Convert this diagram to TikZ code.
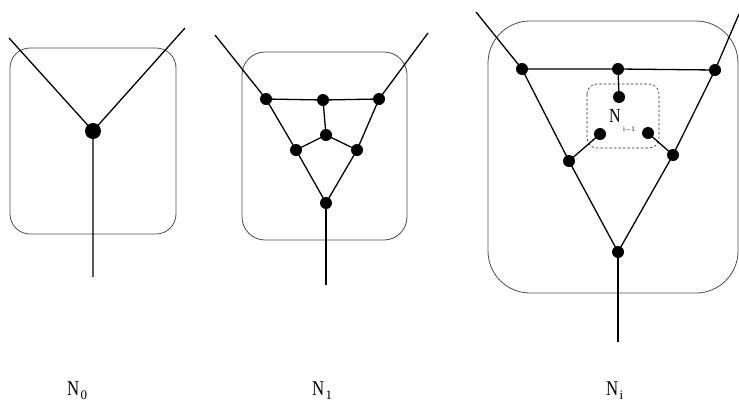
\documentclass[tikz,border=0pt]{standalone}
\usepackage{fontspec}
\setmainfont{Liberation Serif}
\usepackage{graphicx}
\tikzset{
  dot/.style={circle,fill=black,inner sep=0pt,minimum size=12pt},
  bigdot/.style={dot,minimum size=16pt},
  edge/.style={line width=1.3pt,black},
  frame/.style={draw=black!70,line width=0.8pt},
  innerframe/.style={draw=black!85,line width=0.6pt,dash pattern=on 2.5pt off 2pt,rounded corners=10pt},
  lab/.style={inner sep=0pt,anchor=base west,font=\fontsize{21}{21}\selectfont},
  sublab/.style={inner sep=0pt,anchor=base west,font=\fontsize{13}{13}\selectfont}
}
\begin{document}
\begin{tikzpicture}[x=1pt,y=-1pt]
\useasboundingbox (0,0) rectangle (739,402);

% ---------- N0 ----------
\draw[frame,rounded corners=20pt] (10,48) rectangle (176,234);
\node[bigdot] (a) at (93,131) {};
\coordinate (a1) at (9,38);
\coordinate (a2) at (185,28);
\coordinate (a3) at (93,277);
\draw[edge] (a1) -- (a.center) (a2) -- (a.center) (a.center) -- (a3);

% ---------- N1 ----------
\draw[frame,rounded corners=23pt] (242,52) rectangle (407,240);
\node[dot] (tl) at (266,99) {};
\node[dot] (tm) at (323,100) {};
\node[dot] (tr) at (379,99) {};
\node[dot] (c)  at (326,135) {};
\node[dot] (l)  at (296,150) {};
\node[dot] (r)  at (357,150) {};
\node[dot] (b)  at (326,203) {};
\coordinate (b1) at (215,35);
\coordinate (b2) at (428,33);
\coordinate (b3) at (326,285);
\draw[edge] (b1) -- (tl.center) -- (tm.center) -- (tr.center) -- (b2);
\draw[edge] (tm.center) -- (c.center);
\draw[edge] (l.center) -- (c.center) -- (r.center);
\draw[edge] (tl.center) -- (l.center) -- (b.center) -- (r.center) -- (tr.center);
\draw[edge] (b.center) -- (b3);

% ---------- Ni ----------
\draw[frame,rounded corners=42pt] (488,21) rectangle (738,293);
\draw[innerframe] (587,84) rectangle (659,148);
\node[dot] (TL) at (522,69) {};
\node[dot] (TM) at (618,69) {};
\node[dot] (TR) at (715,70) {};
\node[dot] (IT) at (619,97) {};
\node[dot] (IL) at (600,134) {};
\node[dot] (IR) at (648,133) {};
\node[dot] (L)  at (569,161) {};
\node[dot] (R)  at (673,155) {};
\node[dot] (B)  at (618,252) {};
\coordinate (c1) at (476,12);
\coordinate (c2) at (739,14);
\coordinate (c3) at (618,342);
\draw[edge] (c1) -- (TL.center) -- (TM.center) -- (TR.center) -- (c2);
\draw[edge] (TM.center) -- (IT.center);
\draw[edge] (IL.center) -- (L.center);
\draw[edge] (IR.center) -- (R.center);
\draw[edge] (TL.center) -- (L.center) -- (B.center) -- (R.center) -- (TR.center);
\draw[edge] (B.center) -- (c3);
\node[inner sep=0pt,anchor=base west,font=\fontsize{20}{20}\selectfont] (nin) at (609,122) {\scalebox{0.8}[1]{N}};
\node[inner sep=0pt,anchor=base west,font=\fontsize{7}{7}\selectfont] (nins) at (623,131) {i$-$1};

% ---------- labels ----------
\node[lab] (n0) at (67,395) {\scalebox{0.8}[1]{N}};
\node[sublab] (n0s) at (n0.base east) [xshift=1pt,yshift=-4pt] {0};
\node[lab] (n1) at (312,395) {\scalebox{0.8}[1]{N}};
\node[sublab] (n1s) at (n1.base east) [xshift=1pt,yshift=-4pt] {1};
\node[lab] (ni) at (606,395) {\scalebox{0.8}[1]{N}};
\node[sublab] (nis) at (ni.base east) [xshift=1pt,yshift=-4pt] {i};
\end{tikzpicture}
\end{document}
